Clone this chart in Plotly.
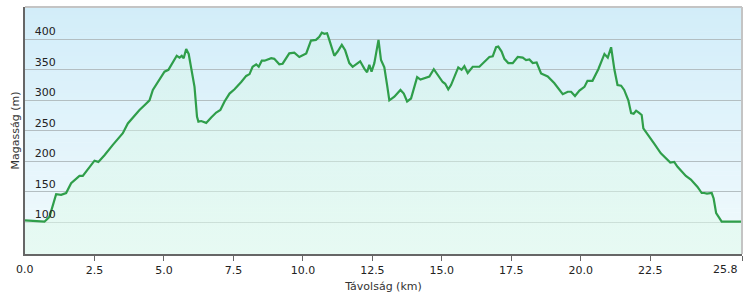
import plotly.graph_objects as go

# Distance along the route (km) and elevation (m)
distance_km = [
    0.00, 0.70, 0.88, 1.12, 1.30, 1.48, 1.66, 1.96, 2.08, 2.32, 2.50, 2.64, 2.86, 3.16,
    3.52, 3.70, 3.88, 4.12, 4.30, 4.48, 4.60, 4.84, 5.02, 5.16, 5.32, 5.46, 5.56, 5.64,
    5.71, 5.80, 5.89, 5.98, 6.10, 6.19, 6.24, 6.34, 6.52, 6.70, 6.88, 7.03, 7.18, 7.36,
    7.54, 7.78, 7.96, 8.08, 8.19, 8.32, 8.41, 8.52, 8.62, 8.86, 8.97, 9.15, 9.27, 9.51,
    9.69, 9.87, 10.12, 10.29, 10.47, 10.59, 10.68, 10.77, 10.87, 10.95, 11.13, 11.25,
    11.40, 11.52, 11.67, 11.79, 11.97, 12.06, 12.21, 12.31, 12.39, 12.47, 12.57, 12.72,
    12.81, 12.93, 13.03, 13.11, 13.29, 13.51, 13.63, 13.75, 13.89, 14.11, 14.23, 14.37,
    14.55, 14.71, 14.85, 15.03, 15.12, 15.23, 15.33, 15.45, 15.59, 15.71, 15.81, 15.93,
    16.11, 16.35, 16.53, 16.71, 16.83, 16.95, 17.03, 17.15, 17.25, 17.39, 17.55, 17.73,
    17.91, 18.03, 18.15, 18.27, 18.41, 18.57, 18.81, 19.05, 19.35, 19.53, 19.65, 19.79,
    19.95, 20.13, 20.24, 20.42, 20.63, 20.85, 20.97, 21.09, 21.21, 21.32, 21.45, 21.56,
    21.71, 21.81, 21.90, 21.99, 22.11, 22.19, 22.25, 22.40, 22.64, 22.88, 23.22, 23.36,
    23.48, 23.78, 23.96, 24.20, 24.35, 24.44, 24.54, 24.71, 24.78, 24.87, 25.07, 25.28,
    25.64, 25.80,
]
elevation_m = [
    103, 101, 109, 146, 145, 148, 164, 176, 176, 190, 201, 199, 210, 227,
    246, 262, 272, 284, 292, 300, 317, 333, 347, 350, 363, 373, 370, 373,
    369, 384, 376, 355, 322, 273, 265, 266, 263, 272, 280, 284, 298, 311,
    318, 330, 340, 343, 355, 359, 355, 365, 365, 369, 368, 359, 360, 377,
    378, 371, 377, 398, 399, 404, 411, 409, 410, 399, 373, 380,
    391, 382, 361, 355, 362, 364, 352, 346, 358, 347, 361, 399,
    366, 354, 325, 300, 306, 317, 311, 298, 303, 338, 334, 336,
    339, 351, 341, 330, 327, 318, 325, 339, 354, 350, 356, 345,
    355, 355, 363, 371, 372, 387, 388, 380, 368, 361, 361, 371,
    370, 366, 367, 361, 362, 344, 339, 328, 310, 314, 314, 307,
    316, 322, 332, 332, 351, 376, 370, 387, 350, 325, 324, 317,
    300, 279, 278, 283, 279, 276, 254, 245, 229, 213, 198, 199,
    191, 176, 170, 158, 148, 148, 147, 148, 139, 115, 101, 101,
    101, 101,
]

x_tick_vals = [0.0, 2.5, 5.0, 7.5, 10.0, 12.5, 15.0, 17.5, 20.0, 22.5, 25.8]
x_tick_text = ["", "2.5", "5.0", "7.5", "10.0", "12.5", "15.0", "17.5", "20.0", "22.5", ""]
x_first_label = "0.0"
x_last_label = "25.8"
y_tick_vals = [100, 150, 200, 250, 300, 350, 400]
x_range = [0, 25.8]
y_range = [48, 453]

FONT = "DejaVu Sans, Verdana, sans-serif"


def mix(c1, c2, t):
    a = [int(c1[i:i + 2], 16) for i in (1, 3, 5)]
    b = [int(c2[i:i + 2], 16) for i in (1, 3, 5)]
    return "rgb(%d,%d,%d)" % tuple(round(a[k] + (b[k] - a[k]) * t) for k in range(3))


# background gradient bands (drawn below gridlines)
bg_top, bg_bottom = "#d2edf9", "#f1fafd"
n_bands = 60
shapes = []
for i in range(n_bands):
    y0 = i / n_bands
    y1 = (i + 1) / n_bands
    shapes.append(dict(type="rect", xref="paper", yref="paper", x0=0, x1=1, y0=y0, y1=y1 + 0.002,
                       fillcolor=mix(bg_bottom, bg_top, (i + 0.5) / n_bands),
                       line=dict(width=0), layer="below"))
shapes += [
    dict(type="line", xref="paper", yref="paper", x0=0, x1=1, y0=1, y1=1,
         line=dict(color="#c4c4c4", width=2), layer="above"),
    dict(type="line", xref="paper", yref="paper", x0=1, x1=1, y0=0, y1=1,
         line=dict(color="#c4c4c4", width=2), layer="above"),
]

fig = go.Figure()

# elevation profile
fig.add_trace(go.Scatter(
    x=distance_km, y=elevation_m, mode="lines",
    line=dict(color="#2f9e4a", width=2.2),
    fill="tozeroy",
    fillgradient=dict(type="vertical", start=y_range[0], stop=420,
                      colorscale=[[0, "rgba(224,250,236,0.6)"], [1, "rgba(212,247,226,0.3)"]]),
    showlegend=False,
))

fig.update_layout(
    width=749, height=300,
    margin=dict(l=24.5, r=7, t=7, b=46),
    paper_bgcolor="white", plot_bgcolor="white",
    font=dict(family=FONT, size=11, color="#222"),
    xaxis=dict(
        range=x_range, tickmode="array", tickvals=x_tick_vals, ticktext=x_tick_text,
        showgrid=False, zeroline=False,
        showline=True, linecolor="#666", linewidth=2,
        ticks="outside", ticklen=5, tickcolor="#666", tickwidth=1,
        title=dict(text="Távolság (km)", standoff=6, font=dict(size=11, color="#333")),
        tickfont=dict(size=11, color="#222"),
    ),
    yaxis=dict(
        range=y_range, tickmode="array", tickvals=y_tick_vals,
        showgrid=True, gridcolor="#b3bec2", gridwidth=1.3, zeroline=False,
        showline=True, linecolor="#666", linewidth=2,
        ticks="", ticklabelposition="inside top", ticklabelstandoff=8,
        tickfont=dict(size=11, color="#222"),
    ),
    shapes=shapes,
    annotations=[
        dict(text=x_first_label, x=x_tick_vals[0], xref="x", y=0, yref="paper",
             xanchor="center", yanchor="top", yshift=-7, showarrow=False,
             font=dict(size=11, color="#222")),
        dict(text=x_last_label, x=x_tick_vals[-1], xref="x", y=0, yref="paper",
             xanchor="right", yanchor="top", yshift=-7, xshift=-2, showarrow=False,
             font=dict(size=11, color="#222")),
        dict(text="Magasság (m)", x=0, xref="paper", y=0.5, yref="paper",
             xanchor="center", yanchor="middle", xshift=-10, textangle=-90,
             showarrow=False, font=dict(size=11, color="#333")),
    ],
)

fig.write_html("out.html")
